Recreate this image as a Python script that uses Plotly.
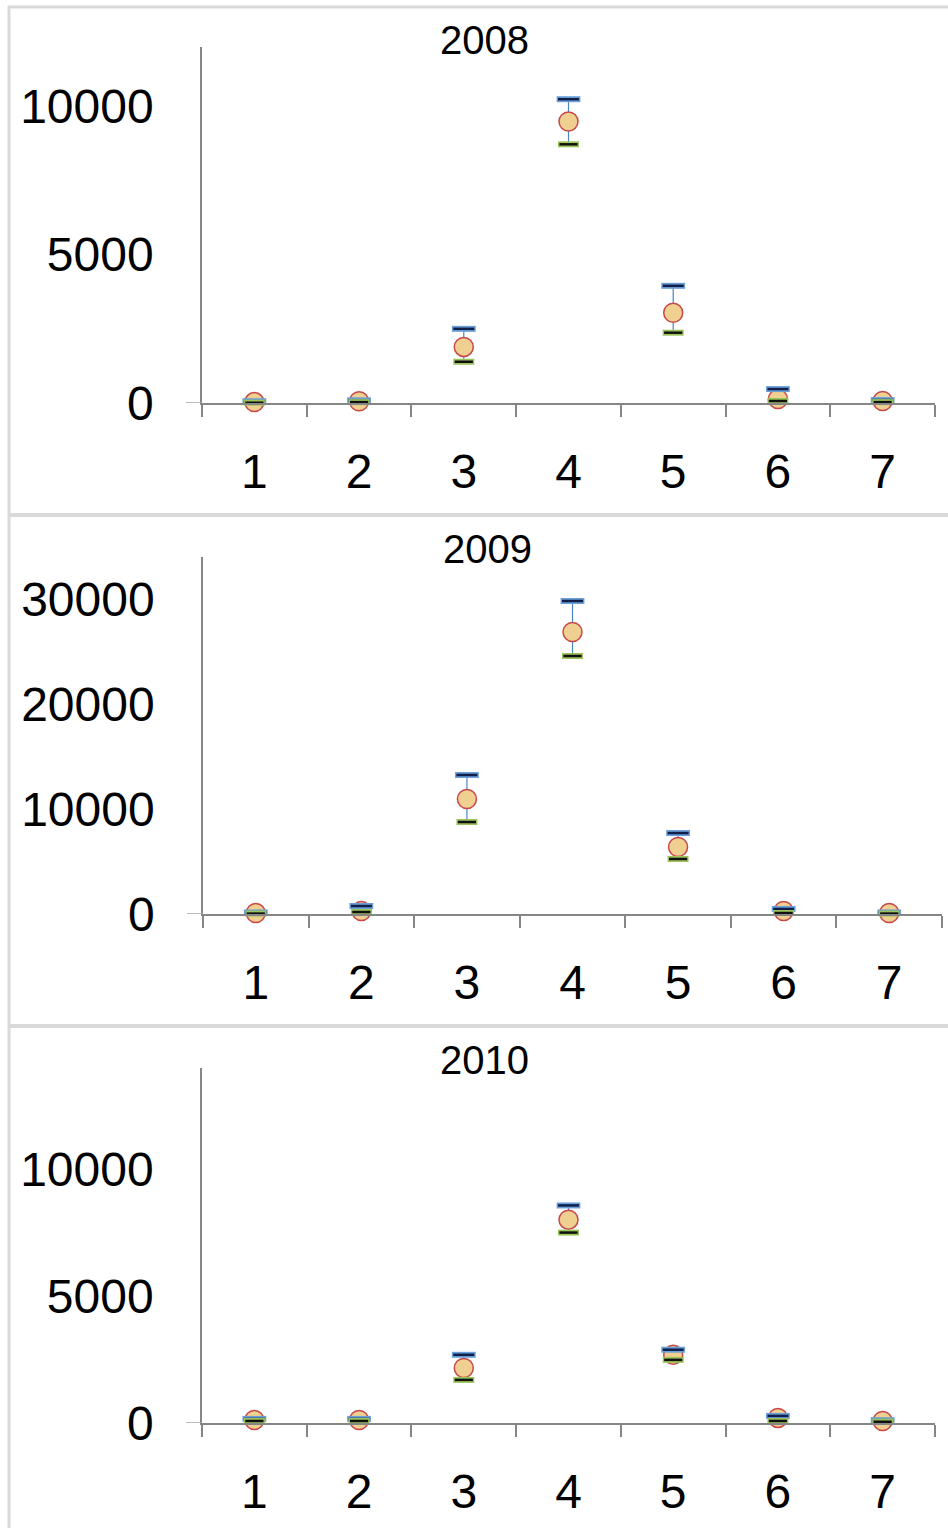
import plotly.graph_objects as go

categories = ["1", "2", "3", "4", "5", "6", "7"]

titles = ["2008", "2009", "2010"]

mean_2008 = [30, 60, 1890, 9490, 3040, 135, 68]
high_2008 = [60, 90, 2500, 10240, 3950, 470, 100]
low_2008 = [10, 30, 1390, 8720, 2370, 68, 30]

mean_2009 = [95, 290, 10950, 26860, 6380, 290, 95]
high_2009 = [150, 760, 13240, 29810, 7710, 480, 150]
low_2009 = [40, 190, 8760, 24570, 5240, 95, 40]

mean_2010 = [120, 120, 2170, 8020, 2690, 200, 80]
high_2010 = [160, 160, 2690, 8580, 2890, 280, 110]
low_2010 = [80, 80, 1700, 7510, 2490, 80, 50]

y_ranges = [[0, 12000], [0, 34000], [0, 14000]]
y_ticks = [[0, 5000, 10000], [0, 10000, 20000, 30000], [0, 5000, 10000]]

W, H = 948, 1528
# pixel geometry of each panel: (x_left, x_right, y_top, y_bottom, title_x, title_y)
panels = [
    (202, 935, 47, 403, 484, 40),
    (203, 942, 557, 914, 487, 549),
    (202, 935, 1068, 1423, 484, 1060),
]

series = [
    (mean_2008, high_2008, low_2008),
    (mean_2009, high_2009, low_2009),
    (mean_2010, high_2010, low_2010),
]

FONT = "Liberation Sans"
AX = "#868686"

fig = go.Figure()
layout = dict(
    width=W, height=H, margin=dict(l=0, r=0, t=0, b=0, autoexpand=False),
    paper_bgcolor="white", plot_bgcolor="white", showlegend=False,
    font=dict(family=FONT, color="black"),
)
shapes = []
annotations = []

for i, ((xl, xr, yt, yb, tx, ty), (m, hi, lo)) in enumerate(zip(panels, series)):
    n = "" if i == 0 else str(i + 1)
    xa, ya = "x" + n, "y" + n
    up = [h - v for h, v in zip(hi, m)]
    dn = [v - l for v, l in zip(m, lo)]
    fig.add_trace(go.Scatter(
        x=categories, y=m, mode="markers", xaxis=xa, yaxis=ya, cliponaxis=False,
        marker=dict(size=19, color="#f0d090", line=dict(color="#c8474a", width=1.5)),
        error_y=dict(type="data", symmetric=False, array=up, arrayminus=dn,
                     color="#4a86c8", thickness=1.2, width=0),
    ))
    # high caps
    fig.add_trace(go.Scatter(
        x=categories, y=hi, mode="markers", xaxis=xa, yaxis=ya, cliponaxis=False,
        marker=dict(symbol="line-ew", size=17, line=dict(color="#6a9fd8", width=6)),
    ))
    fig.add_trace(go.Scatter(
        x=categories, y=hi, mode="markers", xaxis=xa, yaxis=ya, cliponaxis=False,
        marker=dict(symbol="line-ew", size=15, line=dict(color="#10204a", width=2.5)),
    ))
    # low caps
    fig.add_trace(go.Scatter(
        x=categories, y=lo, mode="markers", xaxis=xa, yaxis=ya, cliponaxis=False,
        marker=dict(symbol="line-ew", size=15, line=dict(color="#9bc35a", width=6)),
    ))
    fig.add_trace(go.Scatter(
        x=categories, y=lo, mode="markers", xaxis=xa, yaxis=ya, cliponaxis=False,
        marker=dict(symbol="line-ew", size=13, line=dict(color="#111111", width=2.5)),
    ))

    layout["xaxis" + n] = dict(
        type="category", domain=[xl / W, xr / W], anchor=ya, automargin=False,
        range=[-0.5, len(categories) - 0.5],
        showline=True, linecolor=AX, linewidth=1.5, showgrid=False, zeroline=False,
        ticks="outside", ticklen=12, tickcolor=AX, tickwidth=1.5, tickson="boundaries",
        tickfont=dict(size=48, family=FONT, color="black"), ticklabelstandoff=26,
        fixedrange=True,
    )
    layout["yaxis" + n] = dict(
        domain=[1 - yb / H, 1 - yt / H], anchor=xa, range=y_ranges[i], automargin=False,
        tickvals=y_ticks[i], ticktext=[str(v) for v in y_ticks[i]],
        showline=True, linecolor=AX, linewidth=1.5,
        showgrid=False, zeroline=False, ticks="outside", ticklen=0,
        tickfont=dict(size=48, family=FONT, color="black"), ticklabelstandoff=37,
    )
    # small stub to the left of the y-axis at zero
    shapes.append(dict(type="line", xref="paper", yref=ya, x0=(xl - 16) / W, x1=xl / W,
                       y0=0, y1=0, line=dict(color="#a6a6a6", width=1.5)))
    annotations.append(dict(text=titles[i], xref="paper", yref="paper", x=tx / W, y=1 - ty / H,
                            xanchor="center", yanchor="middle", showarrow=False,
                            font=dict(size=40, family=FONT, color="black")))

BORDER = "#d9d9d9"
for yy, w in [(7, 3), (515, 4), (1026, 4)]:
    shapes.append(dict(type="line", xref="paper", yref="paper", x0=8 / W, x1=1.02,
                       y0=1 - yy / H, y1=1 - yy / H, line=dict(color=BORDER, width=w)))
shapes.append(dict(type="line", xref="paper", yref="paper", x0=9 / W, x1=9 / W,
                   y0=-0.01, y1=1 - 6 / H, line=dict(color=BORDER, width=3)))

layout["shapes"] = shapes
layout["annotations"] = annotations
fig.update_layout(**layout)
fig.write_html("out.html", config={"displayModeBar": False},
               post_script="document.body.style.margin='0';")
